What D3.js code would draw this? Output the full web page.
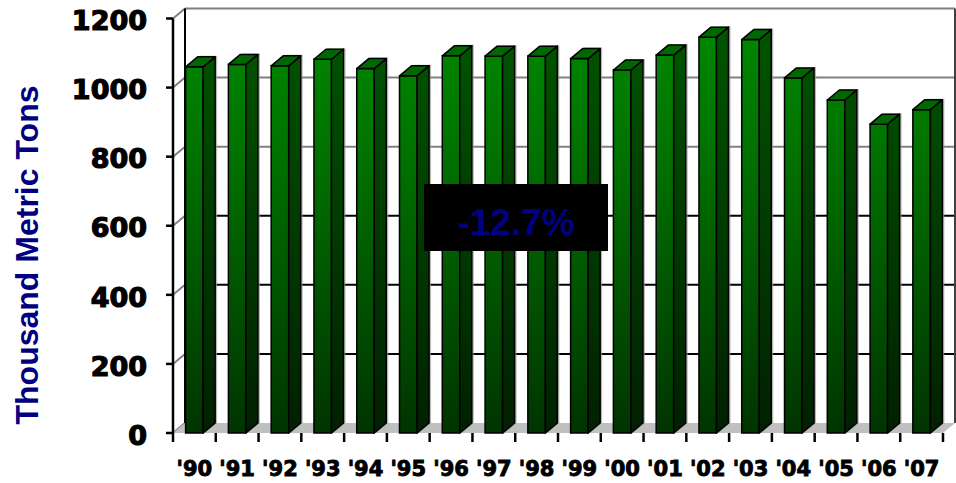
<!DOCTYPE html>
<html>
<head>
<meta charset="utf-8">
<script src="https://cdn.jsdelivr.net/npm/d3@7"></script>
<style>
  html, body { margin: 0; padding: 0; background: #fff; }
  svg { display: block; }
</style>
</head>
<body>
<svg id="chart" width="956" height="483"></svg>
<script>
// ---- data ----
const categories = ["'90","'91","'92","'93","'94","'95","'96","'97","'98","'99","'00","'01","'02","'03","'04","'05","'06","'07"];
const values = [1060, 1067, 1063, 1082, 1055, 1034, 1092, 1091, 1091, 1084, 1051, 1094, 1146, 1139, 1028, 964, 894, 936];
const yTicks = [0, 200, 400, 600, 800, 1000, 1200];
const yTitle = "Thousand Metric Tons";
const annotation = "-12.7%";

(function () {
// ---- layout ----
const pLeft = 173, pRight = 943, pBottom = 433, pTop = 18.5;
const DX = 12, DY = -10;

const svg = d3.select("#chart");
const defs = svg.append("defs");

const y = d3.scaleLinear().domain([0, 1200]).range([pBottom, pTop]);
const x = d3.scaleBand().domain(categories).range([pLeft, pRight])
  .paddingInner(0.59).paddingOuter(0.295);
const xEdge = d3.scaleBand().domain(categories).range([pLeft, pRight]).padding(0);

// gradients
const gFront = defs.append("linearGradient").attr("id", "gFront")
  .attr("gradientUnits", "userSpaceOnUse").attr("x1", 0).attr("x2", 0)
  .attr("y1", pTop).attr("y2", pBottom);
gFront.append("stop").attr("offset", "0%").attr("stop-color", "#008a00");
gFront.append("stop").attr("offset", "35%").attr("stop-color", "#007000");
gFront.append("stop").attr("offset", "100%").attr("stop-color", "#003400");
const gSide = defs.append("linearGradient").attr("id", "gSide")
  .attr("gradientUnits", "userSpaceOnUse").attr("x1", 0).attr("x2", 0)
  .attr("y1", pTop + DY).attr("y2", pBottom + DY);
gSide.append("stop").attr("offset", "0%").attr("stop-color", "#005800");
gSide.append("stop").attr("offset", "100%").attr("stop-color", "#002200");

// ---- back wall ----
svg.append("rect").attr("x", pLeft + DX).attr("y", pTop + DY)
  .attr("width", pRight - pLeft).attr("height", pBottom - pTop).attr("fill", "#fff");

svg.append("g").selectAll("line").data(yTicks.filter(d => d > 0)).join("line")
  .attr("x1", pLeft + DX).attr("x2", pRight + DX)
  .attr("y1", d => y(d) + DY).attr("y2", d => y(d) + DY)
  .attr("stroke", d => d >= 800 ? "#808080" : "#000")
  .attr("stroke-width", 2);

svg.append("line").attr("x1", pRight + DX).attr("x2", pRight + DX)
  .attr("y1", pTop + DY).attr("y2", pBottom + DY)
  .attr("stroke", "#404040").attr("stroke-width", 2);

// ---- left side wall ----
svg.append("path")
  .attr("d", `M${pLeft},${pTop}L${pLeft + DX},${pTop + DY}L${pLeft + DX},${pBottom + DY}L${pLeft},${pBottom}Z`)
  .attr("fill", "#fff");
svg.append("g").selectAll("line").data(yTicks).join("line")
  .attr("x1", pLeft).attr("x2", pLeft + DX)
  .attr("y1", d => y(d)).attr("y2", d => y(d) + DY)
  .attr("stroke", "#808080").attr("stroke-width", 2);

// ---- floor ----
svg.append("path")
  .attr("d", `M${pLeft},${pBottom}L${pLeft + DX},${pBottom + DY}L${pRight + DX},${pBottom + DY}L${pRight},${pBottom}Z`)
  .attr("fill", "#c0c0c0");

svg.append("line").attr("x1", pLeft + DX).attr("x2", pLeft + DX)
  .attr("y1", pTop + DY).attr("y2", pBottom + DY)
  .attr("stroke", "#000").attr("stroke-width", 2);
svg.append("line").attr("x1", pLeft).attr("x2", pLeft)
  .attr("y1", pTop).attr("y2", pBottom)
  .attr("stroke", "#000").attr("stroke-width", 2.5);

// ---- bars ----
const bw = x.bandwidth();
const bars = svg.append("g").selectAll("g").data(categories.map((c, i) => ({c, v: values[i]}))).join("g");

// soft shadow
bars.append("path")
  .attr("d", d => {
    const x0 = x(d.c), yt = y(d.v);
    return `M${x0 + 2},${yt - 1}L${x0 + DX + 2},${yt + DY - 1}L${x0 + bw + DX + 2},${yt + DY - 1}L${x0 + bw + DX + 2},${pBottom + DY}L${x0 + bw + 2},${pBottom}L${x0 + 2},${pBottom}Z`;
  })
  .attr("fill", "#9a9a9a").attr("opacity", 0.7);

bars.append("rect")
  .attr("x", d => x(d.c)).attr("y", d => y(d.v))
  .attr("width", bw).attr("height", d => pBottom - y(d.v))
  .attr("fill", "url(#gFront)").attr("stroke", "#000").attr("stroke-width", 1.5);

bars.append("path")
  .attr("d", d => {
    const x1 = x(d.c) + bw, yt = y(d.v);
    return `M${x1},${yt}L${x1 + DX},${yt + DY}L${x1 + DX},${pBottom + DY}L${x1},${pBottom}Z`;
  })
  .attr("fill", "url(#gSide)").attr("stroke", "#000").attr("stroke-width", 1.5)
  .attr("stroke-linejoin", "round");

bars.append("path")
  .attr("d", d => {
    const x0 = x(d.c), yt = y(d.v);
    return `M${x0},${yt}L${x0 + DX},${yt + DY}L${x0 + bw + DX},${yt + DY}L${x0 + bw},${yt}Z`;
  })
  .attr("fill", "#006800").attr("stroke", "#000").attr("stroke-width", 1.5)
  .attr("stroke-linejoin", "round");

// ---- y axis ticks & labels ----
svg.append("g").selectAll("line").data(yTicks).join("line")
  .attr("x1", pLeft - 7).attr("x2", pLeft)
  .attr("y1", d => y(d)).attr("y2", d => y(d))
  .attr("stroke", "#000").attr("stroke-width", 2.5);

svg.append("g").selectAll("text").data(yTicks).join("text")
  .attr("x", 147).attr("y", d => y(d) + 2)
  .attr("dy", "0.36em")
  .attr("text-anchor", "end")
  .attr("font-family", "DejaVu Sans")
  .attr("font-weight", "bold")
  .attr("font-size", 27)
  .attr("fill", "#000")
  .attr("stroke", "#000").attr("stroke-width", 1.2)
  .text(d => d);

// ---- x axis ticks & labels ----
const edges = categories.map(c => xEdge(c)).concat([pRight]);
svg.append("g").selectAll("line").data(edges).join("line")
  .attr("x1", d => d).attr("x2", d => d)
  .attr("y1", pBottom).attr("y2", pBottom + 9)
  .attr("stroke", "#000").attr("stroke-width", 2.5);

svg.append("g").selectAll("text").data(categories).join("text")
  .attr("x", d => xEdge(d) + xEdge.bandwidth() / 2)
  .attr("y", 476)
  .attr("text-anchor", "middle")
  .attr("font-family", "DejaVu Sans")
  .attr("font-weight", "bold")
  .attr("font-size", 21)
  .attr("fill", "#000")
  .attr("stroke", "#000").attr("stroke-width", 0.9)
  .text(d => d);

// ---- annotation box ----
svg.append("rect").attr("x", 424).attr("y", 184).attr("width", 184).attr("height", 67)
  .attr("fill", "#000");
svg.append("text").attr("x", 516).attr("y", 235)
  .attr("text-anchor", "middle")
  .attr("font-family", "Liberation Sans, Arial, sans-serif")
  .attr("font-weight", "bold")
  .attr("font-size", 37)
  .attr("fill", "#000080")
  .text(annotation);

// ---- y title ----
svg.append("text")
  .attr("transform", "translate(26,255) rotate(-90)")
  .attr("text-anchor", "middle")
  .attr("dy", "0.36em")
  .attr("font-family", "Liberation Sans, Arial, sans-serif")
  .attr("font-weight", "bold")
  .attr("font-size", 32)
  .attr("fill", "#000080")
  .text(yTitle);
})();
</script>
</body>
</html>
